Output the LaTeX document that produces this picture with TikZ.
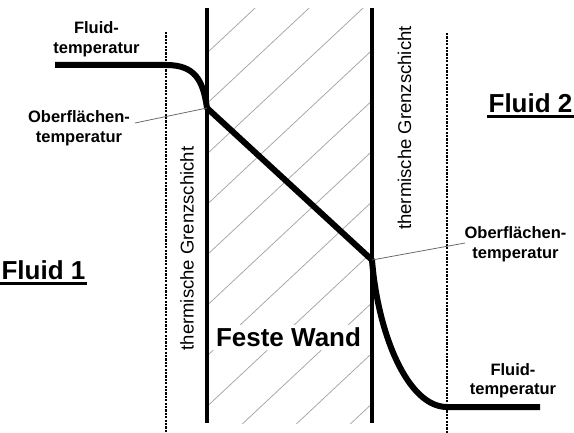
\documentclass[tikz,border=0pt]{standalone}
\usepackage{fontspec}
\setmainfont{Liberation Sans}
\definecolor{hatchgray}{RGB}{165,165,165}
\definecolor{leadgray}{RGB}{100,100,100}
\begin{document}
\begin{tikzpicture}[x=1pt,y=-1pt,
  wall/.style={line width=4pt},
  temp/.style={line width=6pt, line join=round},
  hatchline/.style={hatchgray, line width=0.75pt},
  dotline/.style={line width=2pt, dash pattern=on 2.2pt off 1.2pt},
  leader/.style={leadgray, line width=0.75pt},
  lbl/.style={font=\bfseries\fontsize{16.5}{20}\selectfont, align=center, inner sep=0pt, anchor=base},
  big/.style={font=\bfseries\fontsize{26}{30}\selectfont, inner sep=0pt, anchor=base},
  grenz/.style={font=\fontsize{18.5}{22}\selectfont, rotate=90, anchor=base, inner sep=0pt},
  uline/.style={line width=3pt}]
\useasboundingbox (0,0) rectangle (574,433);
% hatching of the solid wall
\begin{scope}
  \clip (207,8.5) rectangle (372,423);
  \foreach \k in {-1,...,11} {
    \draw[hatchline] (207,{53+50.5*\k}) -- (372,{53+50.5*\k-154.3});
  }
\end{scope}
% walls
\coordinate (lwt) at (207,8.5);
\coordinate (lwb) at (207,423);
\coordinate (rwt) at (372,8.5);
\coordinate (rwb) at (372,423);
\draw[wall] (lwt) -- (lwb);
\draw[wall] (rwt) -- (rwb);
% boundary layer limits
\coordinate (ldt) at (166,32);
\coordinate (ldb) at (166,433);
\coordinate (rdt) at (447,33);
\coordinate (rdb) at (447,433);
\draw[dotline] (ldt) -- (ldb);
\draw[dotline] (rdt) -- (rdb);
% wall label
\node[big, fill=white, inner sep=3pt] (wand) at (288.5,347) {Feste Wand};
% temperature profile
\coordinate (lstart) at (55,65);
\coordinate (lbend) at (166,65);
\coordinate (ls) at (207,108);
\coordinate (rs) at (372,260);
\coordinate (rbend) at (447,407);
\coordinate (rend) at (540,407);
\draw[temp] (lstart) -- (lbend) .. controls (195,65) and (203,80) .. (ls)
  -- (rs) .. controls (378,335) and (408,407) .. (rbend) -- (rend);
% leaders
\coordinate (llead) at (135,123);
\coordinate (rlead) at (465,243);
\draw[leader] (llead) -- (ls);
\draw[leader] (rs) -- (rlead);
% labels (anchor at baseline of last line)
\node[lbl] (lfluid) at (96.5,53.3) {Fluid-\\temperatur};
\node[lbl] (lober) at (79,142.7) {Oberflächen-\\temperatur};
\node[lbl] (rober) at (515.5,258.3) {Oberflächen-\\temperatur};
\node[lbl] (rfluid) at (513,395) {Fluid-\\temperatur};
\node[grenz] (lgrenz) at (193.5,248.5) {thermische Grenzschicht};
\node[grenz] (rgrenz) at (411,128) {thermische Grenzschicht};
\node[big] (f1) at (43.5,279.5) {Fluid 1};
\node[big] (f2) at (530.5,112.7) {Fluid 2};
\draw[uline] ([xshift=-1.5pt,yshift=-4pt]f1.base west) -- ([xshift=1.5pt,yshift=-4pt]f1.base east);
\draw[uline] ([xshift=-1.5pt,yshift=-4pt]f2.base west) -- ([xshift=1.5pt,yshift=-4pt]f2.base east);
\end{tikzpicture}
\end{document}
